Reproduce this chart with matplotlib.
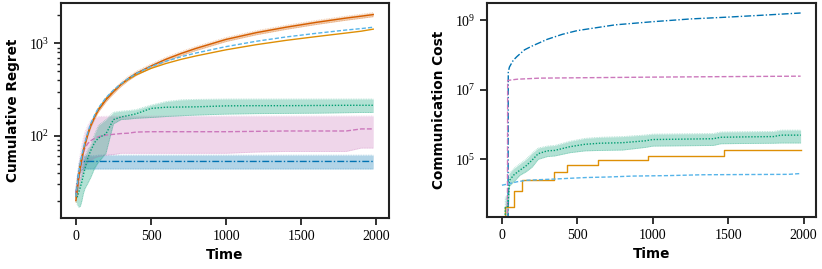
import matplotlib
matplotlib.use("Agg")
import matplotlib.pyplot as plt
import numpy as np
from matplotlib.ticker import NullLocator, LogLocator

# ---------------- data: left panel (cumulative regret) ----------------
T = [0, 10, 20, 30, 40, 50, 60, 80, 100, 125, 150, 200, 250, 300, 350, 400,
     500, 600, 700, 800, 1000, 1200, 1400, 1600, 1800, 1900, 1980]

reg_vermillion = [20, 27, 36, 46, 57, 68, 80, 105, 130, 160, 190, 245, 300, 360, 418, 472,
                  568, 672, 775, 880, 1100, 1300, 1490, 1680, 1870, 1960, 2040]
reg_vermillion_lo = [19, 26, 34, 44, 54, 65, 76, 100, 124, 152, 181, 233, 285, 342, 397, 448,
                     540, 638, 736, 836, 1045, 1235, 1415, 1596, 1776, 1862, 1938]
reg_vermillion_hi = [21, 28, 38, 48, 60, 71, 84, 110, 136, 168, 200, 257, 315, 378, 439, 496,
                     596, 706, 814, 924, 1155, 1365, 1565, 1764, 1963, 2058, 2142]

reg_lightblue = [22, 30, 40, 51, 62, 73, 85, 110, 137, 168, 200, 258, 312, 365, 418, 470,
                 560, 640, 715, 785, 920, 1050, 1170, 1280, 1390, 1440, 1490]

reg_orange = [22, 30, 39, 50, 60, 71, 82, 106, 132, 163, 195, 252, 305, 358, 408, 455,
              535, 605, 670, 730, 850, 965, 1075, 1180, 1290, 1350, 1420]

reg_green = [24, 22, 25, 28, 32, 38, 44, 58, 70, 85, 95, 105, 150, 160, 166, 173,
             198, 204, 205, 206, 211, 212, 212, 213, 214, 214, 214]
reg_green_lo = [20, 18, 17, 17.5, 20, 24, 27, 31, 36, 45, 52, 65, 135, 150, 152, 155,
                158, 162, 165, 168, 172, 174, 175, 176, 178, 179, 179]
reg_green_hi = [28, 27, 30, 34, 42, 52, 60, 72, 80, 105, 130, 150, 180, 185, 188, 192,
                215, 235, 245, 248, 250, 250, 250, 250, 250, 250, 250]

reg_pink = [24, 30, 38, 48, 58, 66, 74, 83, 89, 94, 98, 102, 104, 106, 107, 110,
            111, 111, 111, 111, 111, 112, 113, 113, 113, 119, 119]
reg_pink_lo = [22, 24, 28, 33, 38, 42, 46, 52, 55, 58, 60, 62, 63, 65, 65, 65,
               65, 65, 65, 65, 65, 67, 68, 68, 68, 74, 74]
reg_pink_hi = [26, 35, 50, 65, 80, 95, 110, 130, 148, 158, 162, 163, 164, 164, 164, 164,
               164, 164, 164, 164, 164, 164, 164, 164, 164, 164, 164]

reg_blue = [24, 32, 42, 49, 52, 53, 53, 53, 53, 53, 53, 53, 53, 53, 53, 53,
            53, 53, 53, 53, 53, 53, 53, 53, 53, 53, 53]
reg_blue_lo = [20, 27, 35, 41, 43, 44, 44, 44, 44, 44, 44, 44, 44, 44, 44, 44,
               44, 44, 44, 44, 44, 44, 44, 44, 44, 44, 44]
reg_blue_hi = [28, 38, 50, 58, 61, 61, 61, 61, 61, 61, 62, 62, 62, 62, 62, 62,
               62, 62, 62, 62, 62, 62, 62, 62, 62, 62, 62]

# ---------------- data: right panel (communication cost) ----------------
t_cblue = [0, 40, 42, 50, 75, 100, 150, 200, 300, 400, 500, 750, 1000, 1250, 1500, 1750, 1980]
c_blue = [100, 100, 3.3e7, 4.5e7, 7e7, 9e7, 1.4e8, 1.8e8, 2.8e8, 3.9e8, 5.0e8, 7.3e8,
          9.0e8, 1.08e9, 1.22e9, 1.4e9, 1.6e9]

t_cpink = [0, 36, 38, 100, 250, 500, 1000, 1500, 1980]
c_pink = [100, 100, 1.85e7, 2.0e7, 2.15e7, 2.2e7, 2.3e7, 2.38e7, 2.45e7]

t_cgreen = [0, 20, 22, 40, 50, 80, 120, 160, 200, 240, 300, 350, 450, 550, 650, 800,
            950, 1000, 1200, 1400, 1450, 1600, 1800, 1850, 1980]
c_green = [100, 100, 4200, 4500, 2.5e4, 3.6e4, 4.9e4, 6.5e4, 9.5e4, 1.45e5, 1.75e5, 1.8e5,
           2.3e5, 2.7e5, 2.9e5, 3.0e5, 3.4e5, 3.7e5, 3.8e5, 3.9e5, 4.3e5, 4.4e5, 4.5e5,
           4.95e5, 4.95e5]
c_green_lo = [100, 100, 2000, 2200, 1.7e4, 2.3e4, 3.5e4, 4.4e4, 6e4, 1.0e5, 1.2e5, 1.25e5,
              1.55e5, 1.75e5, 1.8e5, 1.85e5, 2.2e5, 2.4e5, 2.45e5, 2.5e5, 2.8e5, 2.85e5,
              2.9e5, 2.95e5, 2.95e5]
c_green_hi = [100, 100, 8000, 9500, 4e4, 5.5e4, 7.5e4, 1.0e5, 1.5e5, 2.1e5, 2.4e5, 2.5e5,
              3.3e5, 4.0e5, 4.3e5, 4.5e5, 5.0e5, 5.3e5, 5.4e5, 5.5e5, 6.1e5, 6.2e5,
              6.3e5, 6.9e5, 6.9e5]

t_corange = [0, 22, 78, 133, 343, 433, 640, 968, 1470, 1980]
c_orange = [1, 4140, 1.24e4, 2.5e4, 4.4e4, 6.9e4, 9.3e4, 1.28e5, 1.8e5, 1.8e5]

t_clight = [0, 50, 100, 165, 250, 342, 450, 563, 700, 870, 1100, 1333, 1600, 1900, 1980]
c_light = [1.8e4, 2.0e4, 2.26e4, 2.5e4, 2.6e4, 2.7e4, 2.85e4, 3.0e4, 3.1e4, 3.3e4,
           3.4e4, 3.6e4, 3.65e4, 3.7e4, 3.9e4]

# ---------------- style ----------------
C_BLUE = "#0173b2"
C_ORANGE = "#de8f05"
C_GREEN = "#029e73"
C_VERM = "#d55e00"
C_PINK = "#cc78bc"
C_LIGHT = "#56b4e9"

plt.rcParams["font.family"] = ["Liberation Serif", "DejaVu Serif"]
plt.rcParams["mathtext.fontset"] = "stix"
plt.rcParams["axes.linewidth"] = 1.5
plt.rcParams["axes.edgecolor"] = "#222222"

fig = plt.figure(figsize=(8.22, 2.69), dpi=100)
ax1 = fig.add_axes([61 / 822, 51 / 269, 328 / 822, 215 / 269])
ax2 = fig.add_axes([487 / 822, 52 / 269, 329 / 822, 214 / 269])

LW = 1.0
BA = 0.3


def band(ax, x, lo, hi, color):
    ax.fill_between(x, lo, hi, color=color, alpha=BA, lw=0)
    ax.plot(x, lo, color=color, alpha=0.35, lw=0.6, ls=(0, (1, 1)))
    ax.plot(x, hi, color=color, alpha=0.35, lw=0.6, ls=(0, (1, 1)))


# left panel
band(ax1, T, reg_blue_lo, reg_blue_hi, C_BLUE)
ax1.plot(T, reg_blue, color=C_BLUE, lw=LW, ls=(0, (5, 1.5, 1, 1.5)))
ax1.plot(T, reg_orange, color=C_ORANGE, lw=LW, ls="-")
band(ax1, T, reg_pink_lo, reg_pink_hi, C_PINK)
ax1.plot(T, reg_pink, color=C_PINK, lw=LW, ls=(0, (3.5, 1.5)))
band(ax1, T, reg_green_lo, reg_green_hi, C_GREEN)
ax1.plot(T, reg_green, color=C_GREEN, lw=LW, ls=(0, (1, 1.2)))
band(ax1, T, reg_vermillion_lo, reg_vermillion_hi, C_VERM)
ax1.plot(T, reg_vermillion, color=C_VERM, lw=LW, ls="-")
ax1.plot(T, reg_lightblue, color=C_LIGHT, lw=LW, ls=(0, (3, 1.5)))

ax1.set_yscale("log")
ax1.set_xlim(-99, 2085)
ax1.set_ylim(13, 2720)
ax1.set_xticks([0, 500, 1000, 1500, 2000])

# right panel
ax2.plot(t_cblue, c_blue, color=C_BLUE, lw=LW, ls=(0, (5, 1.5, 1, 1.5)))
ax2.plot(t_corange, c_orange, color=C_ORANGE, lw=LW, ls="-", drawstyle="steps-post")
ax2.plot(t_cpink, c_pink, color=C_PINK, lw=LW, ls=(0, (3.5, 1.5)))
band(ax2, t_cgreen, c_green_lo, c_green_hi, C_GREEN)
ax2.plot(t_cgreen, c_green, color=C_GREEN, lw=LW, ls=(0, (1, 1.2)))
ax2.plot(t_clight, c_light, color=C_LIGHT, lw=LW, ls=(0, (3, 1.5)))

ax2.set_yscale("log")
ax2.set_xlim(-99, 2082)
ax2.set_ylim(2200, 3.1e9)
ax2.set_yticks([1e5, 1e7, 1e9])
ax2.yaxis.set_minor_locator(NullLocator())
ax2.set_xticks([0, 500, 1000, 1500, 2000])

for ax in (ax1, ax2):
    ax.tick_params(axis="both", which="major", labelsize=10, length=5, width=1.3,
                   color="#222222")
    ax.tick_params(axis="both", which="minor", length=3, width=1.0, color="#222222")
    ax.set_xlabel("Time", fontfamily="DejaVu Sans", fontweight="bold", fontsize=9.8,
                  labelpad=4)

ax1.set_ylabel("Cumulative Regret", fontfamily="DejaVu Sans", fontweight="bold",
               fontsize=9.8, labelpad=6)
ax2.set_ylabel("Communication Cost", fontfamily="DejaVu Sans", fontweight="bold",
               fontsize=9.8, labelpad=6)

fig.savefig("out.png", dpi=100)
